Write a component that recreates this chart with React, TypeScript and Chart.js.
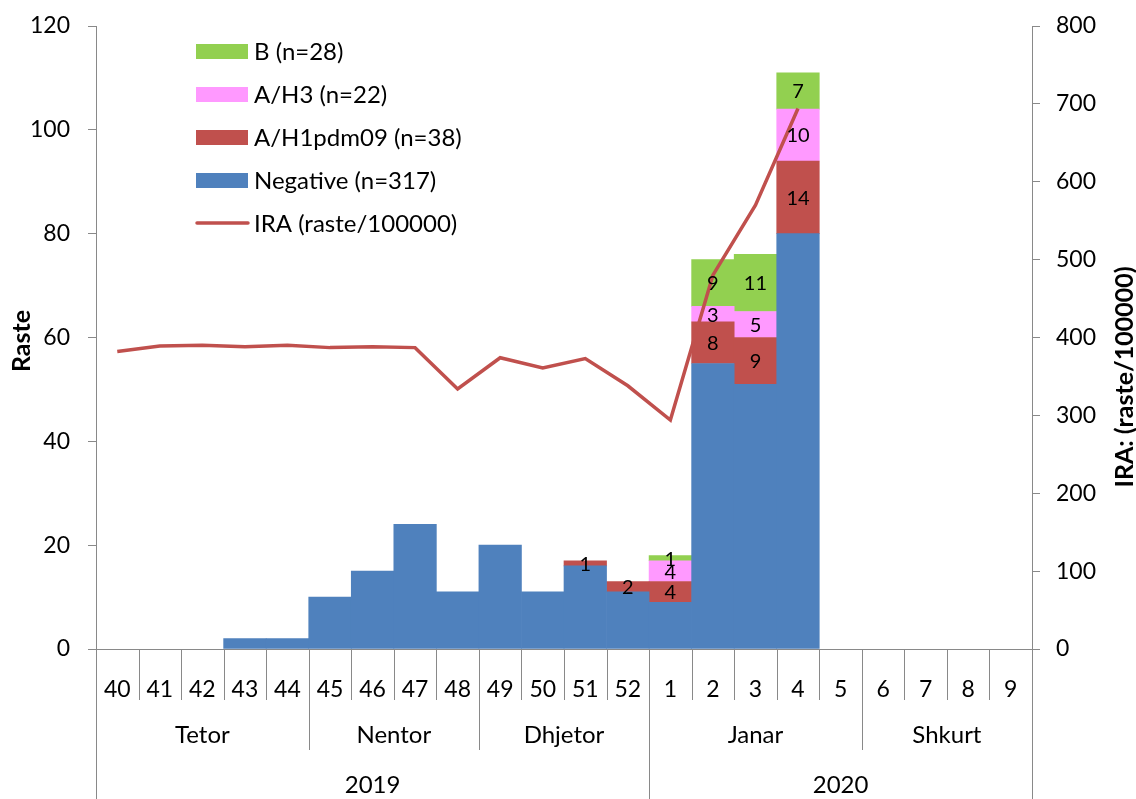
import React, { useEffect, useRef } from 'react';
import { Chart, registerables } from 'chart.js';

Chart.register(...registerables);

const weeks = ['40', '41', '42', '43', '44', '45', '46', '47', '48', '49', '50', '51', '52', '1', '2', '3', '4', '5', '6', '7', '8', '9'];
const negative = [null, null, null, 2, 2, 10, 15, 24, 11, 20, 11, 16, 11, 9, 55, 51, 80, null, null, null, null, null];
const h1pdm09 = [null, null, null, null, null, null, null, null, null, null, null, 1, 2, 4, 8, 9, 14, null, null, null, null, null];
const h3 = [null, null, null, null, null, null, null, null, null, null, null, null, null, 4, 3, 5, 10, null, null, null, null, null];
const fluB = [null, null, null, null, null, null, null, null, null, null, null, null, null, 1, 9, 11, 7, null, null, null, null, null];
const ira = [382, 389, 390, 388, 390, 387, 388, 387, 334, 374, 361, 373, 338, 294, 480, 570, 694, null, null, null, null, null];

const monthNames = ['Tetor', 'Nentor', 'Dhjetor', 'Janar', 'Shkurt'];
const monthSpans = [5, 4, 4, 5, 4];
const yearNames = ['2019', '2020'];
const yearSpans = [13, 9];

const seriesLabels = ['Negative (n=317)', 'A/H1pdm09 (n=38)', 'A/H3 (n=22)', 'B (n=28)', 'IRA (raste/100000)'];
const colors = ['#4F81BD', '#C0504D', '#FF99FF', '#92D050', '#C0504D'];

const FONT = 'Lato, "Open Sans", sans-serif';
const AXIS = '#898989';

const overlayPlugin = {
  id: 'overlay',
  afterDatasetsDraw(chart: any) {
    const ctx = chart.ctx;
    ctx.save();
    ctx.fillStyle = '#000';
    ctx.font = `20px ${FONT}`;
    ctx.textAlign = 'center';
    ctx.textBaseline = 'middle';
    [1, 2, 3].forEach((di) => {
      const meta = chart.getDatasetMeta(di);
      const data = chart.data.datasets[di].data;
      meta.data.forEach((el: any, i: number) => {
        const v = data[i];
        if (v === null || v === undefined) return;
        const cy = (el.y + el.base) / 2;
        ctx.fillText(String(v), el.x, cy + 1);
      });
    });
    ctx.restore();
  },
  afterDraw(chart: any) {
    const ctx = chart.ctx;
    const area = chart.chartArea;
    const n = weeks.length;
    const w = (area.right - area.left) / n;
    const bx = (k: number) => area.left + k * w;
    const y0 = area.bottom;
    const rowWeek = y0 + 51;
    const rowMonth = y0 + 101;
    const rowYear = 799;

    ctx.save();
    ctx.strokeStyle = AXIS;
    ctx.lineWidth = 1;
    const vline = (x: number, ya: number, yb: number) => {
      const px = Math.round(x) + 0.5;
      ctx.beginPath();
      ctx.moveTo(px, ya);
      ctx.lineTo(px, yb);
      ctx.stroke();
    };
    for (let k = 0; k <= n; k++) vline(bx(k), y0, rowWeek);
    let acc = 0;
    monthSpans.forEach((s) => {
      vline(bx(acc), rowWeek, rowMonth);
      acc += s;
    });
    vline(bx(acc), rowWeek, rowMonth);
    acc = 0;
    yearSpans.forEach((s) => {
      vline(bx(acc), rowMonth, rowYear);
      acc += s;
    });
    vline(bx(acc), rowMonth, rowYear);

    ctx.fillStyle = '#000';
    ctx.font = `24px ${FONT}`;
    ctx.textAlign = 'center';
    ctx.textBaseline = 'middle';
    acc = 0;
    monthNames.forEach((m, i) => {
      const cx = (bx(acc) + bx(acc + monthSpans[i])) / 2;
      ctx.fillText(m, cx, y0 + 86);
      acc += monthSpans[i];
    });
    acc = 0;
    yearNames.forEach((m, i) => {
      const cx = (bx(acc) + bx(acc + yearSpans[i])) / 2;
      ctx.fillText(m, cx, y0 + 136);
      acc += yearSpans[i];
    });

    ctx.font = `bold 25px ${FONT}`;
    ctx.save();
    ctx.translate(22, 341);
    ctx.rotate(-Math.PI / 2);
    ctx.fillText('Raste', 0, 0);
    ctx.restore();
    ctx.save();
    ctx.translate(1125, 377);
    ctx.rotate(-Math.PI / 2);
    ctx.fillText('IRA: (raste/100000)', 0, 0);
    ctx.restore();

    const order = [3, 2, 1, 0, 4];
    ctx.font = `24px ${FONT}`;
    ctx.textAlign = 'left';
    order.forEach((di, r) => {
      const cy = 51 + r * 43;
      if (di === 4) {
        ctx.strokeStyle = colors[4];
        ctx.lineWidth = 3.5;
        ctx.lineCap = 'round';
        ctx.beginPath();
        ctx.moveTo(197, cy);
        ctx.lineTo(248, cy);
        ctx.stroke();
      } else {
        ctx.fillStyle = colors[di];
        ctx.fillRect(196, cy - 7, 52, 15);
      }
      ctx.fillStyle = '#000';
      ctx.fillText(seriesLabels[di], 254, cy + 1);
    });
    ctx.restore();
  },
};

const noPadY = (width: number) => (s: any) => {
  s.width = width;
  s.paddingTop = 0;
  s.paddingBottom = 0;
};

export default function App() {
  const ref = useRef<HTMLCanvasElement>(null);
  useEffect(() => {
    if (!ref.current) return;
    Chart.defaults.font.family = FONT;
    Chart.defaults.color = '#000';
    const chart = new Chart(ref.current, {
      type: 'bar',
      data: {
        labels: weeks,
        datasets: [
          { type: 'bar', label: seriesLabels[0], data: negative, backgroundColor: colors[0], yAxisID: 'y', stack: 's', order: 1, barPercentage: 1, categoryPercentage: 1 },
          { type: 'bar', label: seriesLabels[1], data: h1pdm09, backgroundColor: colors[1], yAxisID: 'y', stack: 's', order: 1, barPercentage: 1, categoryPercentage: 1 },
          { type: 'bar', label: seriesLabels[2], data: h3, backgroundColor: colors[2], yAxisID: 'y', stack: 's', order: 1, barPercentage: 1, categoryPercentage: 1 },
          { type: 'bar', label: seriesLabels[3], data: fluB, backgroundColor: colors[3], yAxisID: 'y', stack: 's', order: 1, barPercentage: 1, categoryPercentage: 1 },
          { type: 'line', label: seriesLabels[4], data: ira, borderColor: colors[4], backgroundColor: colors[4], borderWidth: 3.5, pointRadius: 0, tension: 0, yAxisID: 'y1', order: 0, spanGaps: false },
        ] as any,
      },
      options: {
        responsive: false,
        animation: false,
        devicePixelRatio: 1,
        layout: { padding: { top: 26, left: 0, right: 0, bottom: 0 } },
        plugins: { legend: { display: false }, tooltip: { enabled: false }, title: { display: false } },
        scales: {
          x: {
            stacked: true,
            offset: true,
            grid: { display: false },
            border: { display: true, color: AXIS, width: 1 },
            ticks: { font: { size: 23, family: FONT }, color: '#000', padding: 19, maxRotation: 0, autoSkip: false },
            afterFit: (s: any) => { s.height = 150; s.paddingLeft = 0; s.paddingRight = 0; },
          },
          y: {
            position: 'left',
            stacked: true,
            min: 0,
            max: 120,
            ticks: { stepSize: 20, font: { size: 23, family: FONT }, color: '#000', padding: 18 },
            grid: { drawOnChartArea: false, drawTicks: true, tickLength: 8, color: AXIS },
            border: { display: true, color: AXIS, width: 1 },
            afterFit: noPadY(96),
          },
          y1: {
            position: 'right',
            min: 0,
            max: 800,
            ticks: { stepSize: 100, font: { size: 23, family: FONT }, color: '#000', padding: 16 },
            grid: { drawOnChartArea: false, drawTicks: true, tickLength: 8, color: AXIS },
            border: { display: true, color: AXIS, width: 1 },
            afterFit: noPadY(104),
          },
        },
      } as any,
      plugins: [overlayPlugin],
    });
    return () => chart.destroy();
  }, []);
  return (
    <div style={{ position: 'fixed', left: 0, top: 0, width: 1136, height: 799, background: '#fff' }}>
      <canvas ref={ref} width={1136} height={799} style={{ display: 'block', width: 1136, height: 799 }} />
    </div>
  );
}
